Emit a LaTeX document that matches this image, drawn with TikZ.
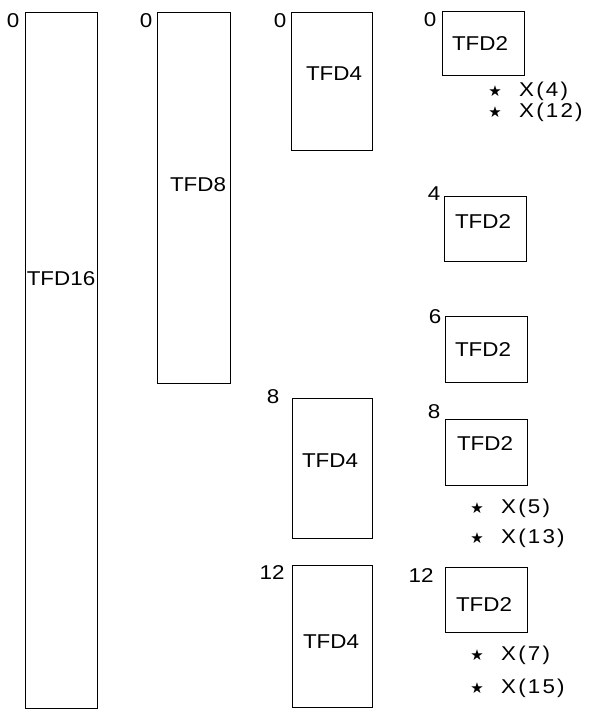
\documentclass[tikz,border=0pt]{standalone}
\usepackage{fontspec}
\setmainfont{Liberation Sans}[FakeStretch=1.12]
\newfontfamily\widefont{Liberation Sans}[FakeStretch=1.12, LetterSpace=11]
\newfontfamily\symfont{DejaVu Sans}
\usetikzlibrary{positioning}
\tikzstyle{tfdbox} = [rectangle, draw, line width=0.9pt, anchor=north west,
                      inner sep=0pt, outer sep=0pt]
\tikzstyle{tfdname} = [font=\fontsize{20}{20}\selectfont, inner sep=0pt]
\tikzstyle{index} = [font=\fontsize{20}{20}\selectfont, inner sep=0pt]
\tikzstyle{twiddle} = [font=\symfont\fontsize{15}{15}\selectfont, inner sep=0pt]
\tikzstyle{output} = [font=\widefont\fontsize{20}{20}\selectfont, inner sep=0pt, anchor=west]

\begin{document}
\begin{tikzpicture}[x=1pt, y=-1pt]
    \useasboundingbox (0,0) rectangle (591,709);

    % Stage boxes: name/left/top/width/height
    \foreach \n/\l/\t/\w/\h in {a/25/12/72/696, b/157/12/73/371,
                                c/291/12/81/138, d/292/398/80/140, e/292/565/80/142,
                                f/442/11/82/64, g/444/196/82/65, h/445/316/82/66,
                                i/445/419/82/66, j/445/567/82/65} {
        \node[tfdbox, minimum width=\w pt, minimum height=\h pt] (box\n) at (\l,\t) {};
    }

    % Box labels
    \node[tfdname] (name16) at (61,279) {TFD16};
    \node[tfdname] (name8) at (198,185) {TFD8};
    \foreach \n/\x/\y in {c/334/74, d/330/461, e/331/642} {
        \node[tfdname] (name\n) at (\x,\y) {TFD4};
    }
    \foreach \n/\x/\y in {f/480/44, g/483/222, h/483/350, i/485/444, j/484/605} {
        \node[tfdname] (name\n) at (\x,\y) {TFD2};
    }

    % Start indices
    \foreach \n/\x/\y/\k in {a/13/21/0, b/146/21/0, c/280/21/0, f/430/20/0,
                             g/434/194/4, h/435/317/6, i/434/412/8,
                             d/273/397/8, e/272/573/12, j/421/576/12} {
        \node[index] (idx\n) at (\x,\y) {\k};
    }

    % Twiddle products
    \foreach \n/\x/\y/\k in {p/495/91/4, q/495/112/12, r/477/508/5, s/477/538/13,
                             t/477/655/7, u/477/688/15} {
        \node[twiddle] (star\n) at (\x,\y) {★};
        \node[output, right=17pt of star\n] (out\n) {X(\k)};
    }
\end{tikzpicture}
\end{document}
